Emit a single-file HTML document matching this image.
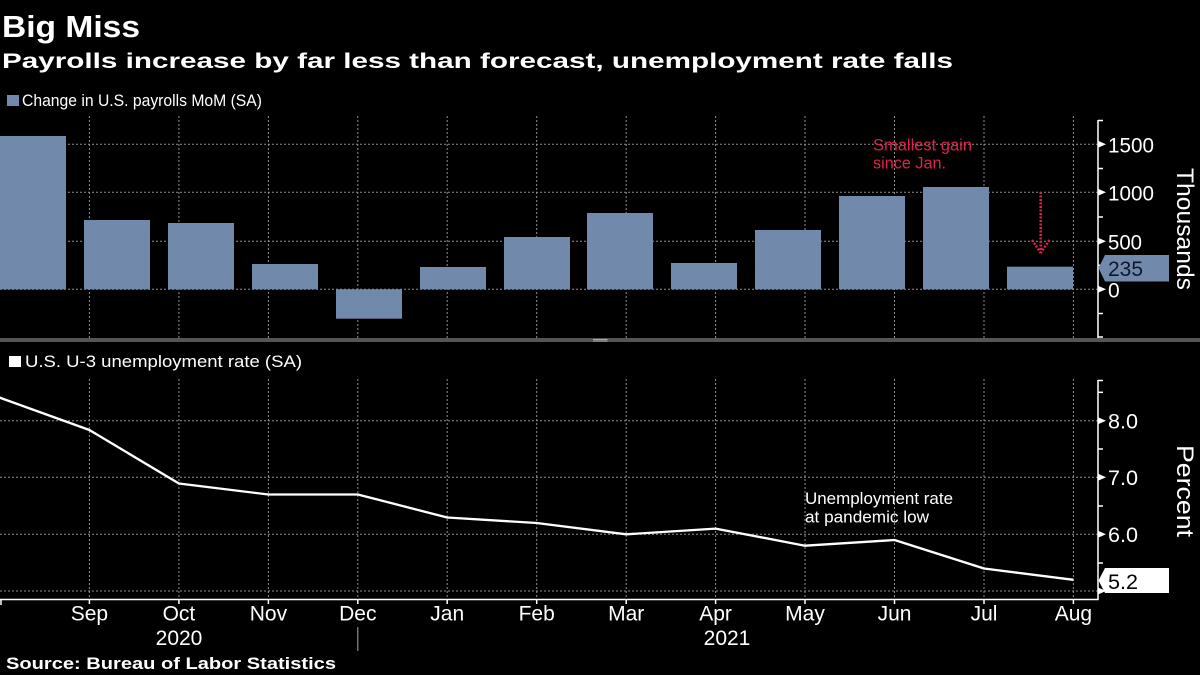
<!DOCTYPE html>
<html><head><meta charset="utf-8"><style>
html,body{margin:0;padding:0;background:#000;}
svg{display:block;}
text{font-family:"Liberation Sans","DejaVu Sans",sans-serif;}
</style></head><body>
<svg width="1200" height="675" viewBox="0 0 1200 675" xmlns="http://www.w3.org/2000/svg">
<rect x="0" y="0" width="1200" height="675" fill="#000"/>
<!-- titles -->
<text x="2" y="37" font-size="31" font-weight="bold" fill="#fff" textLength="138" lengthAdjust="spacingAndGlyphs">Big Miss</text>
<text x="2" y="68" font-size="21" font-weight="bold" fill="#fff" textLength="951" lengthAdjust="spacingAndGlyphs">Payrolls increase by far less than forecast, unemployment rate falls</text>
<!-- top legend -->
<rect x="7" y="95" width="12" height="11" fill="#7189ab"/>
<text x="22" y="106" font-size="17" fill="#fff" textLength="240" lengthAdjust="spacingAndGlyphs">Change in U.S. payrolls MoM (SA)</text>

<!-- top panel gridlines -->
<g stroke="#909090" stroke-width="1" stroke-dasharray="2,2" fill="none">
<line x1="0" y1="144.3" x2="1098" y2="144.3"/>
<line x1="0" y1="192.3" x2="1098" y2="192.3"/>
<line x1="0" y1="241.3" x2="1098" y2="241.3"/>
<line x1="0" y1="289.3" x2="1098" y2="289.3"/>
<line x1="89.4" y1="116" x2="89.4" y2="338"/>
<line x1="178.9" y1="116" x2="178.9" y2="338"/>
<line x1="268.4" y1="116" x2="268.4" y2="338"/>
<line x1="357.8" y1="116" x2="357.8" y2="338"/>
<line x1="447.2" y1="116" x2="447.2" y2="338"/>
<line x1="536.7" y1="116" x2="536.7" y2="338"/>
<line x1="626.2" y1="116" x2="626.2" y2="338"/>
<line x1="715.6" y1="116" x2="715.6" y2="338"/>
<line x1="805" y1="116" x2="805" y2="338"/>
<line x1="894.5" y1="116" x2="894.5" y2="338"/>
<line x1="984" y1="116" x2="984" y2="338"/>
<line x1="1073.4" y1="116" x2="1073.4" y2="338"/>
</g>
<!-- bars -->
<g fill="#7189ab">
<rect x="0" y="136" width="66" height="153.3"/>
<rect x="84" y="220" width="66" height="69.3"/>
<rect x="168" y="223" width="66" height="66.3"/>
<rect x="252" y="264" width="66" height="25.3"/>
<rect x="336" y="289.3" width="66" height="29.4"/>
<rect x="420" y="267" width="66" height="22.3"/>
<rect x="504" y="237" width="66" height="52.3"/>
<rect x="587" y="213" width="66" height="76.3"/>
<rect x="671" y="263" width="66" height="26.3"/>
<rect x="755" y="230" width="66" height="59.3"/>
<rect x="839" y="196" width="66" height="93.3"/>
<rect x="923" y="187" width="66" height="102.3"/>
<rect x="1007" y="266.7" width="66" height="22.6"/>
</g>
<!-- annotation red -->
<text x="873" y="150.7" font-size="17" fill="#e0214b" textLength="99" lengthAdjust="spacingAndGlyphs">Smallest gain</text>
<text x="873" y="168.3" font-size="17" fill="#e0214b" textLength="73" lengthAdjust="spacingAndGlyphs">since Jan.</text>
<g stroke="#e0214b" stroke-width="2.5" stroke-dasharray="2,1.5" fill="none">
<line x1="1040.7" y1="192" x2="1040.7" y2="252"/>
<line x1="1032" y1="240" x2="1040.7" y2="253"/>
<line x1="1049.4" y1="240" x2="1040.7" y2="253"/>
</g>
<!-- top axis -->
<g stroke="#fff" stroke-width="1.5" fill="none">
<line x1="1098" y1="120" x2="1098" y2="338"/>
<line x1="1098" y1="120.5" x2="1103" y2="120.5"/>
<line x1="1098" y1="168.5" x2="1103" y2="168.5"/>
<line x1="1098" y1="217" x2="1103" y2="217"/>
<line x1="1098" y1="265.3" x2="1103" y2="265.3"/>
<line x1="1098" y1="313.5" x2="1103" y2="313.5"/>
<line x1="1098" y1="337" x2="1103" y2="337"/>
</g>
<g fill="#fff">
<polygon points="1098,140.8 1106,144.3 1098,147.8"/>
<polygon points="1098,188.8 1106,192.3 1098,195.8"/>
<polygon points="1098,237.8 1106,241.3 1098,244.8"/>
<polygon points="1098,285.8 1106,289.3 1098,292.8"/>
</g>
<g font-size="21" fill="#fff">
<text x="1108" y="152.5" textLength="46" lengthAdjust="spacingAndGlyphs">1500</text>
<text x="1108" y="200.5" textLength="46" lengthAdjust="spacingAndGlyphs">1000</text>
<text x="1108" y="249.5" textLength="34" lengthAdjust="spacingAndGlyphs">500</text>
<text x="1108" y="297.5">0</text>
</g>
<polygon points="1098.5,268 1105,255 1169,255 1169,281.5 1105,281.5" fill="#7189ab"/>
<text x="1108" y="276" font-size="21" fill="#0d1830" textLength="35" lengthAdjust="spacingAndGlyphs">235</text>
<text transform="translate(1177,229) rotate(90)" x="0" y="0" text-anchor="middle" font-size="24" fill="#fff" textLength="122" lengthAdjust="spacingAndGlyphs">Thousands</text>

<!-- separator -->
<rect x="0" y="338" width="1200" height="4" fill="#555"/>
<line x1="593" y1="339.4" x2="607.5" y2="339.4" stroke="#bbb" stroke-width="0.8"/>
<line x1="593" y1="341" x2="607.5" y2="341" stroke="#bbb" stroke-width="0.8"/>

<!-- bottom legend -->
<rect x="9" y="356" width="12" height="11" fill="#fff"/>
<text x="25" y="367" font-size="17" fill="#fff" textLength="277" lengthAdjust="spacingAndGlyphs">U.S. U-3 unemployment rate (SA)</text>

<!-- bottom grid -->
<g stroke="#909090" stroke-width="1" stroke-dasharray="2,2" fill="none">
<line x1="0" y1="420.7" x2="1098" y2="420.7"/>
<line x1="0" y1="477.3" x2="1098" y2="477.3"/>
<line x1="0" y1="534.3" x2="1098" y2="534.3"/>
<line x1="0" y1="591" x2="1098" y2="591"/>
<line x1="89.4" y1="379" x2="89.4" y2="599"/>
<line x1="178.9" y1="379" x2="178.9" y2="599"/>
<line x1="268.4" y1="379" x2="268.4" y2="599"/>
<line x1="357.8" y1="379" x2="357.8" y2="599"/>
<line x1="447.2" y1="379" x2="447.2" y2="599"/>
<line x1="536.7" y1="379" x2="536.7" y2="599"/>
<line x1="626.2" y1="379" x2="626.2" y2="599"/>
<line x1="715.6" y1="379" x2="715.6" y2="599"/>
<line x1="805" y1="379" x2="805" y2="599"/>
<line x1="894.5" y1="379" x2="894.5" y2="599"/>
<line x1="984" y1="379" x2="984" y2="599"/>
<line x1="1073.4" y1="379" x2="1073.4" y2="599"/>
</g>
<!-- line -->
<polyline fill="none" stroke="#fff" stroke-width="2.3" stroke-linejoin="round" points="-2,397 89.4,430 178.9,483.5 268.4,494.5 357.8,494.5 447.2,517.5 536.7,523 626.2,534.3 715.6,528.6 805,545.7 894.5,540 984,568.5 1073.4,579.8"/>
<text x="805" y="504" font-size="17" fill="#fff" textLength="148" lengthAdjust="spacingAndGlyphs">Unemployment rate</text>
<text x="805" y="522.7" font-size="17" fill="#fff" textLength="124" lengthAdjust="spacingAndGlyphs">at pandemic low</text>

<!-- bottom axis -->
<g stroke="#fff" stroke-width="1.5" fill="none">
<line x1="1098" y1="380" x2="1098" y2="599.5"/>
<line x1="1098" y1="380.5" x2="1103" y2="380.5"/>
<line x1="1098" y1="392.3" x2="1103" y2="392.3"/>
<line x1="1098" y1="449" x2="1103" y2="449"/>
<line x1="1098" y1="506" x2="1103" y2="506"/>
<line x1="1098" y1="563" x2="1103" y2="563"/>
<line x1="0" y1="599.5" x2="1098.7" y2="599.5"/>
<line x1="1" y1="599" x2="1" y2="605"/>
<line x1="89.4" y1="599" x2="89.4" y2="604"/>
<line x1="178.9" y1="599" x2="178.9" y2="604"/>
<line x1="268.4" y1="599" x2="268.4" y2="604"/>
<line x1="357.8" y1="599" x2="357.8" y2="604"/>
<line x1="447.2" y1="599" x2="447.2" y2="604"/>
<line x1="536.7" y1="599" x2="536.7" y2="604"/>
<line x1="626.2" y1="599" x2="626.2" y2="604"/>
<line x1="715.6" y1="599" x2="715.6" y2="604"/>
<line x1="805" y1="599" x2="805" y2="604"/>
<line x1="894.5" y1="599" x2="894.5" y2="604"/>
<line x1="984" y1="599" x2="984" y2="604"/>
<line x1="1073.4" y1="599" x2="1073.4" y2="604"/>
</g>
<line x1="357.8" y1="627" x2="357.8" y2="651" stroke="#aaa" stroke-width="1"/>
<g fill="#fff">
<polygon points="1098,417.2 1106,420.7 1098,424.2"/>
<polygon points="1098,473.8 1106,477.3 1098,480.8"/>
<polygon points="1098,530.8 1106,534.3 1098,537.8"/>
<polygon points="1098,587.5 1106,591 1098,594.5"/>
</g>
<g font-size="21" fill="#fff">
<text x="1108" y="428.5" textLength="30" lengthAdjust="spacingAndGlyphs">8.0</text>
<text x="1108" y="485" textLength="30" lengthAdjust="spacingAndGlyphs">7.0</text>
<text x="1108" y="542" textLength="30" lengthAdjust="spacingAndGlyphs">6.0</text>
</g>
<polygon points="1098.5,580.5 1105,568 1169,568 1169,593 1105,593" fill="#fff"/>
<text x="1108" y="589" font-size="21" fill="#000" textLength="30" lengthAdjust="spacingAndGlyphs">5.2</text>
<text transform="translate(1177,491) rotate(90)" x="0" y="0" text-anchor="middle" font-size="24" fill="#fff" textLength="92" lengthAdjust="spacingAndGlyphs">Percent</text>

<!-- x labels -->
<g font-size="21" fill="#fff" text-anchor="middle">
<text x="89.4" y="620.5">Sep</text>
<text x="178.9" y="620.5">Oct</text>
<text x="268.4" y="620.5">Nov</text>
<text x="357.8" y="620.5">Dec</text>
<text x="447.2" y="620.5">Jan</text>
<text x="536.7" y="620.5">Feb</text>
<text x="626.2" y="620.5">Mar</text>
<text x="715.6" y="620.5">Apr</text>
<text x="805" y="620.5">May</text>
<text x="894.5" y="620.5">Jun</text>
<text x="984" y="620.5">Jul</text>
<text x="1073.4" y="620.5">Aug</text>
<text x="179" y="645">2020</text>
<text x="727" y="645">2021</text>
</g>
<!-- source -->
<text x="6" y="669" font-size="17" font-weight="bold" fill="#fff" textLength="330" lengthAdjust="spacingAndGlyphs">Source: Bureau of Labor Statistics</text>
</svg>
</body></html>
